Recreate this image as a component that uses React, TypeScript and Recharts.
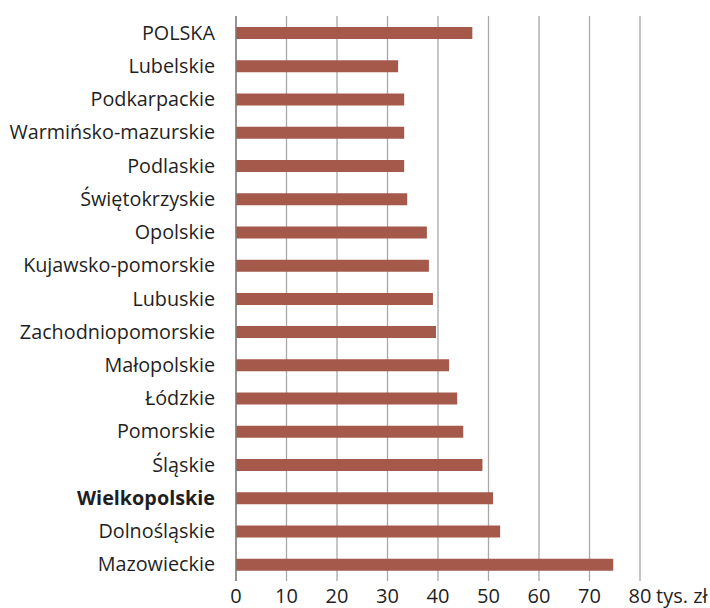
import React from "react";
import { BarChart, Bar, XAxis, YAxis, CartesianGrid } from "recharts";

// Data
const regions = [
  "POLSKA",
  "Lubelskie",
  "Podkarpackie",
  "Warmińsko-mazurskie",
  "Podlaskie",
  "Świętokrzyskie",
  "Opolskie",
  "Kujawsko-pomorskie",
  "Lubuskie",
  "Zachodniopomorskie",
  "Małopolskie",
  "Łódzkie",
  "Pomorskie",
  "Śląskie",
  "Wielkopolskie",
  "Dolnośląskie",
  "Mazowieckie",
];
const values = [
  46.8, 32.1, 33.3, 33.3, 33.3, 33.9, 37.8, 38.2, 39.0, 39.6, 42.2, 43.8, 45.0,
  48.8, 50.9, 52.3, 74.7,
];
const xTicks = [0, 10, 20, 30, 40, 50, 60, 70, 80];
const unit = "tys. zł";
const highlighted = "Wielkopolskie";

const data = regions.map((name, i) => ({ name, value: values[i] }));

const FONT = "'Open Sans', sans-serif";
const TEXT = "#1f1f1f";

const RegionTick = (props: any) => {
  const { x, y, payload } = props;
  const bold = payload.value === highlighted;
  return (
    <text
      x={x}
      y={y}
      dy={7}
      textAnchor="end"
      fontFamily={FONT}
      fontSize={19.8}
      fontWeight={bold ? 700 : 400}
      fill={TEXT}
    >
      {payload.value}
    </text>
  );
};

const ValueTick = (props: any) => {
  const { x, y, payload } = props;
  const last = payload.value === xTicks[xTicks.length - 1];
  return (
    <g>
      <text x={x} y={y} dy={14} textAnchor="middle" fontFamily={FONT} fontSize={20} fill={TEXT}>
        {payload.value}
      </text>
      {last && (
        <text x={x + 16} y={y} dy={14} textAnchor="start" fontFamily={FONT} fontSize={20} fill={TEXT}>
          {unit}
        </text>
      )}
    </g>
  );
};

const App = () => {
  return (
    <div style={{ position: "absolute", left: 0, top: 0, background: "#fff" }}>
      <BarChart
        width={710}
        height={608}
        data={data}
        layout="vertical"
        margin={{ top: 16, right: 70, bottom: 0, left: 0 }}
        barCategoryGap={0}
      >
        <CartesianGrid horizontal={false} stroke="#a8a8a8" strokeWidth={1.3} />
        <XAxis
          type="number"
          domain={[0, 80]}
          ticks={xTicks}
          tickLine={false}
          axisLine={false}
          height={27}
          tick={<ValueTick />}
          interval={0}
        />
        <YAxis
          type="category"
          dataKey="name"
          width={236}
          tickLine={false}
          axisLine={{ stroke: "#7a7a7a", strokeWidth: 1.3 }}
          tick={<RegionTick />}
          tickMargin={15}
          interval={0}
        />
        <Bar dataKey="value" fill="#a5594a" barSize={12} isAnimationActive={false} />
      </BarChart>
    </div>
  );
};

export default App;
